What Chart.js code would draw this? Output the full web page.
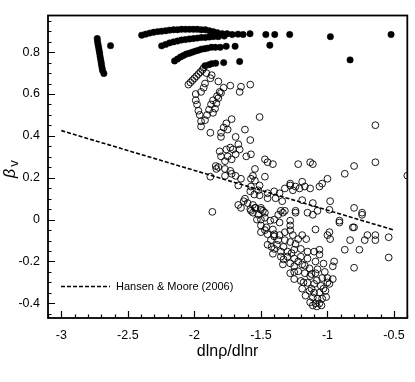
<!DOCTYPE html>
<html>
<head>
<meta charset="utf-8">
<script src="https://cdn.jsdelivr.net/npm/chart.js@4.4.0/dist/chart.umd.min.js"></script>
<style>
  html, body { margin: 0; padding: 0; background: #fff; }
</style>
</head>
<body>
<canvas id="betaChart" width="415" height="382"></canvas>
<script>
// filled dots
var streakPts = [
  [-2.73, 0.865], [-2.728, 0.851], [-2.724, 0.837], [-2.72, 0.823], [-2.716, 0.809],
  [-2.712, 0.795], [-2.709, 0.781], [-2.705, 0.767], [-2.701, 0.753], [-2.698, 0.74],
  [-2.694, 0.726], [-2.69, 0.712], [-2.68, 0.698], [-2.63, 0.831]
];
var arcA = [
  [-2.396, 0.881], [-2.366, 0.886], [-2.336, 0.891], [-2.306, 0.895], [-2.276, 0.898],
  [-2.246, 0.900], [-2.216, 0.902], [-2.187, 0.905], [-2.157, 0.907], [-2.127, 0.907],
  [-2.097, 0.909], [-2.067, 0.909], [-2.037, 0.909], [-2.007, 0.909], [-1.978, 0.909],
  [-1.948, 0.907], [-1.918, 0.907], [-1.888, 0.902], [-1.858, 0.898], [-1.828, 0.893],
  [-1.791, 0.888], [-1.754, 0.888], [-1.716, 0.884], [-1.672, 0.886], [-1.634, 0.884],
  [-1.582, 0.888], [-1.463, 0.884], [-1.396, 0.884], [-1.284, 0.884], [-0.978, 0.874],
  [-0.522, 0.884]
];
var arcB = [
  [-2.246, 0.830], [-2.216, 0.837], [-2.187, 0.844], [-2.157, 0.849], [-2.127, 0.853],
  [-2.097, 0.858], [-2.067, 0.860], [-2.037, 0.863], [-2.007, 0.865], [-1.978, 0.867],
  [-1.948, 0.870], [-1.918, 0.870], [-1.888, 0.872], [-1.858, 0.874], [-1.821, 0.874],
  [-1.776, 0.877]
];
var arcC = [
  [-2.149, 0.758], [-2.127, 0.767], [-2.104, 0.777], [-2.082, 0.784], [-2.060, 0.791],
  [-2.037, 0.795], [-2.015, 0.800], [-1.993, 0.805], [-1.970, 0.809], [-1.948, 0.814],
  [-1.925, 0.816], [-1.903, 0.819], [-1.873, 0.823], [-1.843, 0.823], [-1.806, 0.823],
  [-1.761, 0.828], [-1.694, 0.828], [-1.433, 0.833]
];
var arcD = [
  [-1.92, 0.735], [-1.89, 0.74], [-1.87, 0.745], [-1.84, 0.747], [-1.78, 0.75],
  [-1.66, 0.755], [-0.83, 0.763]
];

// open circles
var openArc = [
  [-2.045, 0.645], [-2.03, 0.655], [-2.015, 0.665], [-2.0, 0.675], [-1.985, 0.685],
  [-1.97, 0.695], [-1.955, 0.705], [-1.94, 0.715], [-1.93, 0.725]
];
var openUpper = [
  [-1.99, 0.60], [-1.99, 0.57], [-1.98, 0.55], [-1.97, 0.52], [-1.96, 0.50],
  [-1.95, 0.47], [-1.95, 0.445], [-1.91, 0.70], [-1.87, 0.69], [-1.88, 0.675],
  [-1.82, 0.66], [-1.92, 0.65], [-1.93, 0.63], [-1.95, 0.61],
  [-1.81, 0.61], [-1.83, 0.59], [-1.86, 0.57], [-1.875, 0.55], [-1.89, 0.525],
  [-1.905, 0.50], [-1.92, 0.475], [-1.78, 0.63], [-1.80, 0.605], [-1.82, 0.58],
  [-1.835, 0.555], [-1.845, 0.53], [-1.86, 0.51], [-1.73, 0.64], [-1.65, 0.635],
  [-1.66, 0.61], [-1.58, 0.645], [-1.51, 0.49], [-1.72, 0.48], [-1.76, 0.46],
  [-1.78, 0.44], [-1.80, 0.415], [-1.80, 0.395], [-1.88, 0.415], [-1.62, 0.43],
  [-1.58, 0.38], [-1.69, 0.395], [-1.67, 0.36], [-1.75, 0.43],
  [-0.64, 0.451], [-0.64, 0.274]
];
var openMid = [
  [-1.81, 0.326], [-1.76, 0.335], [-1.73, 0.344], [-1.71, 0.335], [-1.66, 0.335],
  [-1.80, 0.302], [-1.75, 0.302], [-1.69, 0.312], [-1.61, 0.302], [-1.575, 0.312],
  [-1.77, 0.279], [-1.72, 0.288], [-1.47, 0.288], [-1.45, 0.274], [-1.41, 0.265],
  [-1.84, 0.256], [-1.835, 0.242], [-1.77, 0.242], [-1.73, 0.233], [-1.72, 0.219],
  [-1.69, 0.209], [-1.65, 0.195], [-1.77, 0.209], [-1.88, 0.205], [-1.545, 0.242],
  [-1.56, 0.209], [-1.575, 0.195], [-1.545, 0.186], [-1.47, 0.205], [-1.51, 0.163],
  [-1.575, 0.158], [-1.58, 0.135], [-1.52, 0.14], [-1.67, 0.163], [-1.45, 0.126],
  [-1.40, 0.135], [-1.36, 0.126], [-1.32, 0.149], [-1.28, 0.163], [-1.24, 0.158],
  [-1.51, 0.116], [-1.45, 0.102], [-1.39, 0.102], [-1.34, 0.088], [-1.67, 0.07],
  [-1.63, 0.088], [-1.60, 0.079], [-1.65, 0.056], [-1.865, 0.037], [-1.56, 0.07],
  [-1.54, 0.056], [-1.575, 0.042], [-1.50, 0.047], [-1.47, 0.033], [-1.52, 0.023],
  [-1.50, 0.0], [-1.37, 0.023], [-1.335, 0.033], [-1.32, 0.042], [-1.24, 0.033],
  [-1.82, 0.251], [-1.22, 0.265], [-1.13, 0.274], [-1.11, 0.265], [-0.80, 0.256],
  [-0.87, 0.219], [-1.0, 0.195], [-1.04, 0.172], [-1.06, 0.158], [-1.28, 0.172],
  [-1.19, 0.181], [-1.17, 0.158], [-1.13, 0.149], [-1.21, 0.149], [-1.26, 0.14],
  [-1.19, 0.093], [-1.11, 0.079], [-0.98, 0.088], [-0.80, 0.056], [-0.74, 0.033],
  [-1.24, 0.042], [-1.15, 0.033], [-1.11, 0.023], [-1.075, 0.042], [-0.985, 0.047],
  [-0.40, 0.21]
];
var openBand = [
  [-1.545, 0.056], [-1.50, 0.056], [-1.56, 0.033], [-1.485, 0.042], [-1.47, 0.009],
  [-1.35, 0.042], [-1.43, -0.005], [-1.40, 0.0], [-1.36, -0.014], [-1.28, -0.005],
  [-1.28, -0.028], [-1.50, -0.028], [-1.46, -0.037], [-1.41, -0.047], [-1.50, -0.06],
  [-1.45, -0.07], [-1.40, -0.07], [-1.36, -0.074], [-1.32, -0.06], [-1.28, -0.051],
  [-1.26, -0.074], [-1.22, -0.093], [-1.19, -0.074], [-1.16, -0.093], [-1.425, -0.098],
  [-1.37, -0.098], [-1.32, -0.098], [-1.28, -0.107], [-1.24, -0.116], [-1.40, -0.14],
  [-1.41, -0.163], [-1.35, -0.153], [-1.30, -0.153], [-1.25, -0.144], [-1.20, -0.14],
  [-1.15, -0.153], [-1.10, -0.153], [-1.06, -0.144], [-1.35, -0.177], [-1.30, -0.177],
  [-1.25, -0.186], [-1.20, -0.177], [-1.15, -0.186], [-1.09, -0.20], [-1.06, -0.167],
  [-1.335, -0.214], [-1.28, -0.209], [-1.25, -0.223], [-1.19, -0.214], [-1.135, -0.233],
  [-1.075, -0.237], [-0.95, -0.20], [-0.96, -0.223], [-1.28, -0.256], [-1.22, -0.247],
  [-1.17, -0.256], [-1.13, -0.27], [-1.09, -0.256], [-1.04, -0.279], [-1.00, -0.279],
  [-0.96, -0.284], [-1.25, -0.284], [-1.20, -0.293], [-1.15, -0.302], [-1.10, -0.307],
  [-1.05, -0.316], [-0.985, -0.307], [-1.19, -0.33], [-1.135, -0.34], [-1.10, -0.349],
  [-1.06, -0.349], [-1.015, -0.34], [-1.165, -0.363], [-1.11, -0.372], [-1.075, -0.377],
  [-1.04, -0.377], [-1.13, -0.395], [-1.09, -0.40], [-1.06, -0.40], [-1.08, -0.415],
  [-1.045, -0.41], [-1.11, -0.41],
  [-1.45, -0.12], [-1.42, -0.13], [-1.38, -0.12], [-1.33, -0.13], [-1.27, -0.16],
  [-1.22, -0.20], [-1.17, -0.22], [-1.12, -0.26], [-1.08, -0.29], [-1.03, -0.33],
  [-1.01, -0.37], [-1.12, -0.33], [-1.18, -0.30], [-1.25, -0.25], [-1.33, -0.19],
  [-1.40, -0.08], [-1.47, -0.05], [-1.53, 0.0], [-1.58, 0.05], [-1.62, 0.10],
  [-1.55, 0.12], [-1.02, -0.25], [-1.0, -0.30], [-1.03, -0.21]
];
var openRight = [
  [-0.91, -0.005], [-0.81, -0.037], [-1.09, -0.047], [-0.985, -0.06], [-0.98, -0.093],
  [-1.0, -0.074], [-0.70, -0.074], [-0.72, -0.098], [-0.64, -0.074], [-0.64, -0.098],
  [-0.54, -0.084], [-0.83, -0.098], [-0.87, -0.144], [-0.76, -0.144], [-0.54, -0.181],
  [-0.80, -0.23], [-0.74, 0.023], [-0.91, -0.014], [-0.80, -0.037]
];

// Hansen & Moore (2006) relation, end points
var fitX = [-3.0, -0.5];
var fitY = [0.425, -0.05];

var xTicks = [-3, -2.5, -2, -1.5, -1, -0.5];
var yTicks = [-0.4, -0.2, 0, 0.2, 0.4, 0.6, 0.8];

function toXY(list) {
  return list.map(function(p) { return { x: p[0], y: p[1] }; });
}

var FONT = '"Liberation Sans", Arial, Helvetica, sans-serif';

var filledPts = toXY([].concat(streakPts, arcA, arcB, arcC, arcD));
var openPts = toXY([].concat(openArc, openUpper, openMid, openBand, openRight));
var fitPts = fitX.map(function(x, i) { return { x: x, y: fitY[i] }; });

// frame, inward ticks, axis titles and the inset legend
var decorations = {
  id: 'decorations',
  afterDraw: function(chart) {
    var ctx = chart.ctx, a = chart.chartArea;
    var xs = chart.scales.x, ys = chart.scales.y;
    ctx.save();
    ctx.strokeStyle = '#000';
    ctx.lineWidth = 1.8;
    ctx.strokeRect(a.left, a.top, a.right - a.left, a.bottom - a.top);

    ctx.lineWidth = 1.2;
    ctx.beginPath();
    var i, px, py, major;
    for (i = -31; i <= -4; i++) {
      px = Math.round(xs.getPixelForValue(i / 10)) + 0.5;
      major = (i % 5 === 0);
      ctx.moveTo(px, a.bottom);
      ctx.lineTo(px, a.bottom - (major ? 7 : 3.5));
    }
    for (i = -9; i <= 19; i++) {
      py = Math.round(ys.getPixelForValue(i / 20)) + 0.5;
      major = (i % 4 === 0);
      ctx.moveTo(a.left, py);
      ctx.lineTo(a.left + (major ? 7 : 3.5), py);
    }
    ctx.stroke();

    // x title
    ctx.fillStyle = '#000';
    ctx.font = '16px ' + FONT;
    ctx.textAlign = 'center';
    ctx.textBaseline = 'alphabetic';
    ctx.fillText('dln\u03C1/dlnr', (a.left + a.right) / 2, 356);

    // y title: beta with subscript v
    ctx.save();
    ctx.translate(15, 178);
    ctx.rotate(-Math.PI / 2);
    ctx.textAlign = 'left';
    ctx.font = 'italic 16px ' + FONT;
    ctx.fillText('\u03B2', 0, 0);
    var bw = ctx.measureText('\u03B2').width;
    ctx.font = '13px ' + FONT;
    ctx.fillText('v', bw + 2, 3);
    ctx.restore();

    // legend
    var ly = a.bottom - 31.5;
    ctx.lineWidth = 1.4;
    ctx.setLineDash([4, 2]);
    ctx.beginPath();
    ctx.moveTo(a.left + 13, ly);
    ctx.lineTo(a.left + 62, ly);
    ctx.stroke();
    ctx.setLineDash([]);
    ctx.font = '11px ' + FONT;
    ctx.textAlign = 'left';
    ctx.textBaseline = 'middle';
    ctx.fillText('Hansen & Moore (2006)', a.left + 68, ly);
    ctx.restore();
  }
};

var ctx = document.getElementById('betaChart').getContext('2d');

var betaChart = new Chart(ctx, {
  type: 'scatter',
  data: {
    datasets: [{
      label: 'Hansen & Moore (2006)',
      type: 'line',
      data: fitPts,
      borderColor: '#000',
      borderWidth: 1.6,
      borderDash: [4, 2],
      pointRadius: 0,
      fill: false
    }, {
      label: 'filled',
      data: filledPts,
      pointRadius: 3.2,
      pointBackgroundColor: '#000',
      pointBorderColor: '#000',
      pointBorderWidth: 0.5
    }, {
      label: 'open',
      data: openPts,
      pointRadius: 3.4,
      pointBackgroundColor: 'rgba(0,0,0,0)',
      pointBorderColor: '#000',
      pointBorderWidth: 0.9
    }]
  },
  options: {
    responsive: false,
    animation: false,
    layout: { padding: { top: 8, right: 6, left: 0, bottom: 0 } },
    plugins: {
      legend: { display: false },
      tooltip: { enabled: false }
    },
    scales: {
      x: {
        type: 'linear',
        min: -3.1,
        max: -0.4,
        grid: { display: false, drawTicks: false },
        border: { display: false },
        afterBuildTicks: function(scale) {
          scale.ticks = xTicks.map(function(v) { return { value: v }; });
        },
        afterFit: function(scale) { scale.height = 64; },
        ticks: {
          padding: 10,
          color: '#000',
          font: { family: FONT, size: 12.5 },
          callback: function(v) { return String(+v.toFixed(2)); }
        }
      },
      y: {
        type: 'linear',
        min: -0.47,
        max: 0.975,
        grid: { display: false, drawTicks: false },
        border: { display: false },
        afterBuildTicks: function(scale) {
          scale.ticks = yTicks.map(function(v) { return { value: v }; });
        },
        afterFit: function(scale) { scale.width = 48; },
        ticks: {
          padding: 8,
          color: '#000',
          font: { family: FONT, size: 12.5 },
          callback: function(v) { return String(+v.toFixed(2)); }
        }
      }
    }
  },
  plugins: [decorations]
});
</script>
</body>
</html>
